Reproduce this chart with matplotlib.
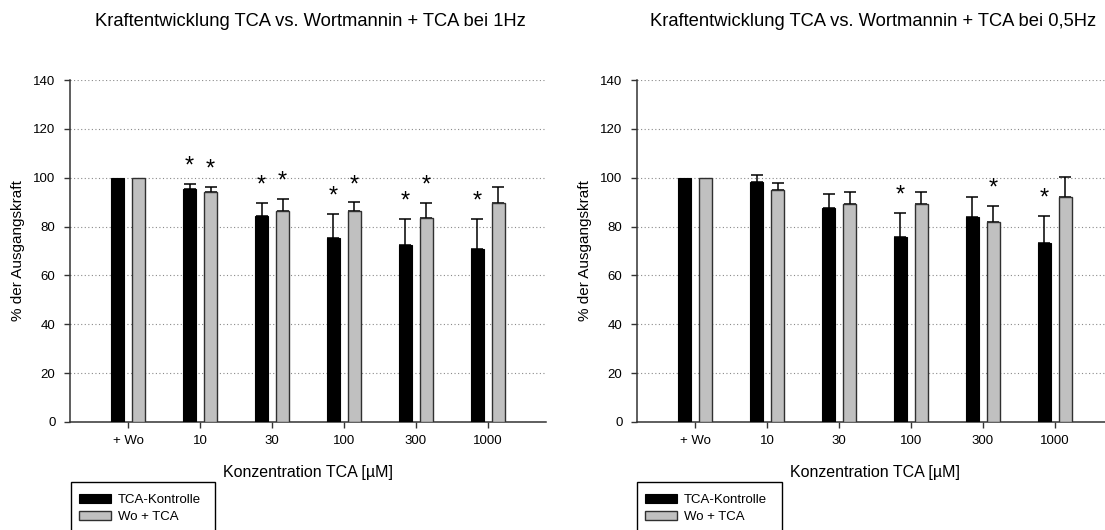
import numpy as np
import matplotlib
matplotlib.use("Agg")
import matplotlib.pyplot as plt
from matplotlib.patches import Patch, Rectangle

plt.rcParams["font.family"] = ["Liberation Sans", "DejaVu Sans"]

# ---- data -------------------------------------------------------------
categories = ["+ Wo", "10", "30", "100", "300", "1000"]

# 1 Hz
ctrl_1hz = [100, 95.3, 84.5, 75.5, 72.4, 70.9]
ctrl_1hz_err = [0, 2.1, 5.1, 9.7, 10.9, 12.1]
wo_1hz = [100, 94.0, 86.3, 86.3, 83.5, 89.6]
wo_1hz_err = [0, 2.3, 5.1, 3.6, 6.2, 6.7]
ctrl_1hz_sig = [False, True, True, True, True, True]
wo_1hz_sig = [False, True, True, True, True, False]

# 0,5 Hz
ctrl_05hz = [100, 98.3, 87.4, 75.7, 83.9, 73.1]
ctrl_05hz_err = [0, 3.0, 5.8, 9.9, 8.2, 11.3]
wo_05hz = [100, 95.1, 89.3, 89.1, 81.7, 92.3]
wo_05hz_err = [0, 2.8, 4.9, 4.9, 6.8, 8.1]
ctrl_05hz_sig = [False, False, False, True, False, True]
wo_05hz_sig = [False, False, False, False, True, False]

titles = ["Kraftentwicklung TCA vs. Wortmannin + TCA bei 1Hz",
          "Kraftentwicklung TCA vs. Wortmannin + TCA bei 0,5Hz"]
series_labels = ["TCA-Kontrolle", "Wo + TCA"]
xlabel = "Konzentration TCA [µM]"
ylabel = "% der Ausgangskraft"

# ---- style ------------------------------------------------------------
BLACK = "#000000"
GREY = "#c0c0c0"
EDGE = "#303030"
W, H = 1105, 530

fig = plt.figure(figsize=(W / 100, H / 100), dpi=100)

def px_axes(x0, y_top, x1, y_bot):
    return fig.add_axes([x0 / W, 1 - y_bot / H, (x1 - x0) / W, (y_bot - y_top) / H])

ax_left = px_axes(70, 80, 546, 422)
ax_right = px_axes(637, 80, 1113, 422)

panels = [
    (ax_left, ctrl_1hz, ctrl_1hz_err, wo_1hz, wo_1hz_err, ctrl_1hz_sig, wo_1hz_sig),
    (ax_right, ctrl_05hz, ctrl_05hz_err, wo_05hz, wo_05hz_err, ctrl_05hz_sig, wo_05hz_sig),
]

x = np.arange(len(categories))
off = 0.146
bw = 0.185

for i, (ax, c, ce, w, we, cs, ws) in enumerate(panels):
    ax.bar(x - off, c, width=bw, color=BLACK, edgecolor=BLACK, linewidth=0.8, zorder=3)
    ax.bar(x + off, w, width=bw, color=GREY, edgecolor=EDGE, linewidth=1.0, zorder=3)
    for xs, vals, errs, sig in ((x - off, c, ce, cs), (x + off, w, we, ws)):
        for xi, v, e, s in zip(xs, vals, errs, sig):
            if e > 0:
                ax.errorbar(xi, v, yerr=[[0], [e]], fmt="none", ecolor="black",
                            elinewidth=1.1, capsize=4.2, capthick=1.1, zorder=2)
            if s:
                ax.text(xi, v + e + 4.6, "*", ha="center", va="baseline",
                        fontsize=17, color="black", zorder=4)

    ax.set_xlim(-0.81, 5.81)
    ax.set_ylim(0, 140)
    ax.set_yticks(np.arange(0, 141, 20))
    ax.set_xticks(x)
    ax.set_xticklabels(categories)
    ax.tick_params(axis="both", labelsize=9.5, length=4.5, width=1.0, color="#333333",
                   direction="out")
    ax.tick_params(axis="y", pad=6)
    ax.tick_params(axis="x", pad=5)
    for sp in ("top", "right"):
        ax.spines[sp].set_visible(False)
    for sp in ("left", "bottom"):
        ax.spines[sp].set_color("#333333")
        ax.spines[sp].set_linewidth(1.1)
    ax.yaxis.grid(True, linestyle=(0, (1, 2.2)), color="#8a8a8a", linewidth=0.8, zorder=0)
    ax.set_axisbelow(True)
    ax.set_xlabel(xlabel, fontsize=11.5, labelpad=13)
    ax.set_ylabel(ylabel, fontsize=11, labelpad=6)

# titles, centred over each panel
fig.text(310 / W, 1 - 22 / H, titles[0], ha="center", va="center", fontsize=13.2)
fig.text(873 / W, 1 - 22 / H, titles[1], ha="center", va="center", fontsize=13.2)

# legends below each panel: a plain box running off the bottom edge
handles = [Patch(facecolor=BLACK, edgecolor=BLACK, linewidth=0.8),
           Patch(facecolor=GREY, edgecolor=EDGE, linewidth=1.0)]
for box_x0, box_x1 in ((71, 215), (637, 782)):
    fig.add_artist(Rectangle((box_x0 / W, -10 / H), (box_x1 - box_x0) / W, (530 + 10 - 482) / H,
                             transform=fig.transFigure, facecolor="white",
                             edgecolor="black", linewidth=1.0, zorder=5))
    leg = fig.legend(handles, series_labels, loc="upper left",
                     bbox_to_anchor=((box_x0 + 8) / W, 1 - 494 / H), fontsize=9.5,
                     frameon=False, handlelength=2.4, handleheight=0.7,
                     handletextpad=0.55, labelspacing=0.38, borderpad=0,
                     borderaxespad=0)
    leg.set_zorder(6)

fig.savefig("out.png", dpi=100)
